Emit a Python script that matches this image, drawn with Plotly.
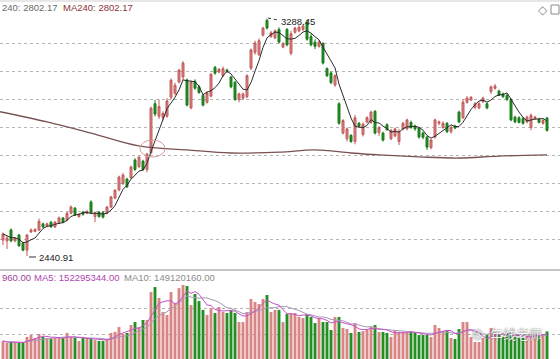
import plotly.graph_objects as go
import pandas as pd

W, H = 560, 359

# ---------------- data ----------------
open_ = [2498, 2495, 2534, 2495, 2516, 2487, 2462, 2527, 2529, 2534,
         2556, 2548, 2562, 2545, 2560, 2577, 2570, 2594, 2612, 2582,
         2598, 2594, 2634, 2582, 2598, 2596, 2594, 2616, 2648, 2677,
         2700, 2716, 2720, 2784, 2760, 2780, 2750, 2810, 2985, 2940,
         2935, 2940, 3008, 3022, 3062, 3080, 3070, 2970, 3065, 3045,
         3015, 2990, 3012, 3115, 3098, 3085, 3105, 3080, 3062, 3000,
         3005, 3010, 3112, 3168, 3160, 3230, 3283, 3225, 3220, 3250,
         3187, 3250, 3165, 3240, 3245, 3250, 3275, 3225, 3205, 3190,
         3200, 3110, 3095, 3052, 2985, 2880, 2860, 2872, 2850, 2915,
         2875, 2920, 2918, 2958, 2882, 2880, 2910, 2860, 2870, 2850,
         2895, 2895, 2918, 2905, 2898, 2880, 2865, 2828, 2866, 2915,
         2900, 2915, 2885, 2905, 2955, 2935, 2990, 2998, 2972, 2970,
         2992, 2985, 3028, 3040, 3030, 3020, 3015, 3000, 2937, 2935,
         2932, 2920, 2900, 2932, 2930, 2915, 2934]
high = [2525, 2512, 2540, 2508, 2520, 2491, 2520, 2540, 2540, 2575,
        2560, 2560, 2566, 2566, 2582, 2580, 2598, 2622, 2616, 2594,
        2602, 2605, 2640, 2600, 2600, 2602, 2620, 2656, 2680, 2728,
        2738, 2720, 2764, 2790, 2798, 2785, 2809, 2975, 2998, 3000,
        2958, 3005, 3075, 3060, 3110, 3137, 3075, 3068, 3072, 3052,
        3020, 3030, 3095, 3120, 3112, 3118, 3110, 3085, 3065, 3025,
        3025, 3090, 3182, 3210, 3218, 3260, 3288.45, 3245, 3250, 3258,
        3205, 3255, 3245, 3260, 3265, 3270, 3285, 3235, 3215, 3212,
        3205, 3115, 3100, 3090, 2990, 2930, 2900, 2876, 2945, 2920,
        2918, 2940, 2960, 2962, 2905, 2885, 2915, 2895, 2900, 2895,
        2920, 2932, 2925, 2910, 2902, 2885, 2870, 2860, 2932, 2925,
        2922, 2920, 2905, 2910, 2960, 3000, 3012, 3012, 2990, 2992,
        3010, 2990, 3050, 3055, 3035, 3025, 3020, 3005, 2942, 2940,
        2938, 2942, 2950, 2942, 2935, 2930, 2938]
low = [2480, 2466, 2490, 2490, 2473, 2458, 2440.91, 2524, 2526, 2530,
       2540, 2544, 2542, 2541, 2556, 2558, 2566, 2590, 2584, 2578,
       2585, 2590, 2592, 2562, 2578, 2575, 2590, 2612, 2644, 2672,
       2695, 2684, 2716, 2745, 2755, 2745, 2740, 2805, 2940, 2930,
       2925, 2935, 3000, 3015, 3058, 3070, 2975, 2965, 3035, 3020,
       2975, 2985, 3008, 3088, 3094, 3080, 3095, 3040, 2995, 2990,
       2998, 3005, 3105, 3160, 3155, 3225, 3250, 3220, 3215, 3200,
       3183, 3190, 3158, 3235, 3240, 3245, 3210, 3190, 3180, 3185,
       3125, 3080, 3055, 3045, 2910, 2875, 2850, 2845, 2840, 2898,
       2868, 2915, 2912, 2875, 2870, 2850, 2888, 2855, 2865, 2837,
       2890, 2890, 2895, 2888, 2860, 2858, 2820, 2822, 2860, 2908,
       2895, 2880, 2878, 2894, 2915, 2930, 2985, 2995, 2965, 2965,
       2988, 2965, 3020, 3035, 3012, 3005, 2995, 2922, 2915, 2915,
       2910, 2915, 2890, 2928, 2915, 2910, 2885]
close = [2520, 2505, 2495, 2505, 2478, 2462, 2516, 2534, 2536, 2565,
         2545, 2556, 2545, 2562, 2577, 2562, 2594, 2616, 2588, 2590,
         2590, 2600, 2596, 2595, 2582, 2580, 2616, 2652, 2676, 2723,
         2730, 2688, 2759, 2750, 2794, 2750, 2805, 2969, 2948, 2975,
         2950, 2995, 3069, 3051, 3105, 3130, 2980, 3062, 3040, 3025,
         2980, 3022, 3090, 3094, 3108, 3110, 3100, 3045, 3000, 3020,
         3020, 3085, 3177, 3202, 3210, 3255, 3255, 3238, 3245, 3205,
         3200, 3195, 3235, 3255, 3258, 3262, 3215, 3195, 3190, 3205,
         3130, 3085, 3060, 3085, 2915, 2925, 2895, 2850, 2935, 2905,
         2912, 2935, 2955, 2880, 2900, 2855, 2892, 2890, 2895, 2885,
         2915, 2927, 2900, 2895, 2866, 2865, 2830, 2855, 2927, 2920,
         2915, 2885, 2900, 2898, 2920, 2990, 3005, 3008, 2985, 2985,
         3005, 2970, 3045, 3048, 3015, 3010, 3000, 2927, 2920, 2918,
         2915, 2937, 2944, 2937, 2918, 2925, 2890]
volume = [110, 98, 104, 104, 98, 98, 133,
          144, 127, 150, 133, 127, 121, 127,
          127, 127, 156, 133, 127, 110, 127,
          127, 121, 115, 110, 110, 121, 156,
          162, 190, 150, 156, 202,
          219, 190, 231, 231,
          392, 421, 358, 277, 260,
          392, 329, 415, 433, 427,
          317, 381, 340, 289, 260,
          300, 271, 306, 277, 271,
          289, 271, 219, 219, 277,
          352, 335, 323, 352, 375,
          277, 289, 289, 219, 265,
          271, 271, 248, 242, 265,
          248, 213, 242, 219, 219, 173, 248,
          248, 185, 179, 156, 213, 162, 167,
          179, 190, 202, 162, 162, 156, 133,
          173, 162, 160, 160, 162, 156, 144,
          144, 144, 133, 202, 185, 167, 167,
          127, 121, 179, 219, 219, 133, 104,
          104, 127, 144, 185, 150, 144, 133,
          150, 156, 133, 127, 127, 133, 150,
          150, 140, 145, 165]  # millions
ma240_idx = [-1, 11, 22, 34, 46, 57, 69, 78, 87, 94, 104, 114, 124, 136]
ma240_val = [2957, 2920, 2880, 2834, 2820, 2809, 2812, 2820, 2809, 2802,
             2795, 2791, 2798, 2802.17]
price_grid = [2500, 2600, 2700, 2800, 2900, 3000, 3100, 3200]
vol_grid = [150, 300]

# ---------------- derived ----------------
idx = list(range(len(close)))
ma5 = pd.Series(close).rolling(5, min_periods=1).mean()
vma5 = pd.Series(volume).rolling(5, min_periods=1).mean()
vma10 = pd.Series(volume).rolling(10, min_periods=1).mean()

RED_FILL, RED_LINE = "#d98585", "#c05a5a"
GRN_FILL, GRN_LINE = "#238f23", "#1a7a1a"
vol_colors = [RED_FILL if c >= o else GRN_FILL for o, c in zip(open_, close)]

def px(x):
    return x / W

def py(y):
    return 1 - y / H

FONT = "Liberation Sans, Arial, sans-serif"

fig = go.Figure()
fig.add_trace(go.Scatter(x=ma240_idx, y=ma240_val, mode="lines",
                         line=dict(color="#7a5252", width=1.3, shape="spline"),
                         xaxis="x", yaxis="y", hoverinfo="skip"))
fig.add_trace(go.Candlestick(x=idx, open=open_, high=high, low=low, close=close,
                             increasing=dict(line=dict(color=RED_LINE, width=1), fillcolor=RED_FILL),
                             decreasing=dict(line=dict(color=GRN_LINE, width=1), fillcolor=GRN_FILL),
                             whiskerwidth=0, xaxis="x", yaxis="y"))
fig.add_trace(go.Scatter(x=idx, y=ma5, mode="lines",
                         line=dict(color="#2a2a2a", width=1),
                         xaxis="x", yaxis="y", hoverinfo="skip"))
fig.add_trace(go.Bar(x=idx, y=volume, marker=dict(color=vol_colors, line=dict(width=0)),
                     width=0.72, xaxis="x2", yaxis="y2"))
fig.add_trace(go.Scatter(x=idx, y=vma10, mode="lines",
                         line=dict(color="#a898b8", width=1),
                         xaxis="x2", yaxis="y2", hoverinfo="skip"))
fig.add_trace(go.Scatter(x=idx, y=vma5, mode="lines",
                         line=dict(color="#c650c6", width=1),
                         xaxis="x2", yaxis="y2", hoverinfo="skip"))

xr = [-0.75, 139.25]
grid = dict(showgrid=True, griddash="dot", gridcolor="#b5b5b5", gridwidth=1,
            showticklabels=False, zeroline=False, showline=False, ticks="")

anns = [
    dict(x=px(0), y=py(8), text="240: 2802.17", font=dict(color="#6a6a6a", size=9.5)),
    dict(x=px(61), y=py(8), text="MA240: 2802.17", font=dict(color="#8a3434", size=9.5)),
    dict(x=px(279), y=py(21), text="3288.45", font=dict(color="#222", size=9.5)),
    dict(x=px(37), y=py(257), text="2440.91", font=dict(color="#222", size=9.5)),
    dict(x=px(0), y=py(277), text="960.00", font=dict(color="#a03ea0", size=9.5)),
    dict(x=px(32), y=py(277), text="MA5: 152295344.00", font=dict(color="#b044b0", size=9.5)),
    dict(x=px(122), y=py(277), text="MA10: 149120160.00", font=dict(color="#8c8c8c", size=9.5)),
    dict(x=px(536), y=py(10), text="◇", font=dict(color="#8a8a8a", size=12)),
    dict(x=px(470), y=py(333), text="◎", font=dict(color="rgba(255,255,255,0.95)", size=13,
                                                   shadow="0px 0px 1.5px #333")),
    dict(x=px(488), y=py(333), text="年线老师",
         font=dict(color="rgba(255,255,255,0.95)", size=13, family="Noto Sans CJK SC",
                   shadow="0px 0px 1.5px #333")),
]
for a in anns:
    a.update(xref="paper", yref="paper", xanchor="left", yanchor="middle",
             showarrow=False)
    a["font"].setdefault("family", FONT)

shapes = [
    dict(type="line", xref="paper", yref="paper", x0=0, x1=1, y0=py(270), y1=py(270),
         line=dict(color="#c4c4c4", width=2)),
    dict(type="line", xref="paper", yref="paper", x0=0, x1=1, y0=py(1), y1=py(1),
         line=dict(color="#cfcfcf", width=1)),
    dict(type="circle", xref="paper", yref="paper", x0=px(140), x1=px(165),
         y0=py(157), y1=py(140), line=dict(color="#d49a9a", width=1)),
    dict(type="line", xref="paper", yref="paper", x0=px(268), x1=px(278),
         y0=py(18), y1=py(20), line=dict(color="#333", width=1, dash="dot")),
    dict(type="line", xref="paper", yref="paper", x0=px(29), x1=px(36),
         y0=py(257), y1=py(257), line=dict(color="#333", width=1)),
    dict(type="rect", xref="paper", yref="paper", x0=px(551), x1=px(559),
         y0=py(14), y1=py(5), line=dict(color="#8a8a8a", width=1)),
]

fig.update_layout(
    width=W, height=H, margin=dict(l=0, r=0, t=0, b=0),
    paper_bgcolor="white", plot_bgcolor="white", showlegend=False,
    font=dict(family=FONT),
    xaxis=dict(domain=[0, 1], range=xr, visible=False, anchor="y",
               rangeslider=dict(visible=False)),
    xaxis2=dict(domain=[0, 1], range=xr, visible=False, anchor="y2"),
    yaxis=dict(domain=[py(269), 1], range=[3355.3 - 3.571 * 269, 3355.3],
               tickvals=price_grid, anchor="x", **grid),
    yaxis2=dict(domain=[0, py(272)], range=[(360 - 359) * 5.77, (360 - 272) * 5.77],
                tickvals=vol_grid, anchor="x2", **grid),
    annotations=anns, shapes=shapes, bargap=0.25,
)

fig.write_html("out.html", config={"displayModeBar": False},
               post_script="document.body.style.margin='0';document.body.style.overflow='hidden';")
